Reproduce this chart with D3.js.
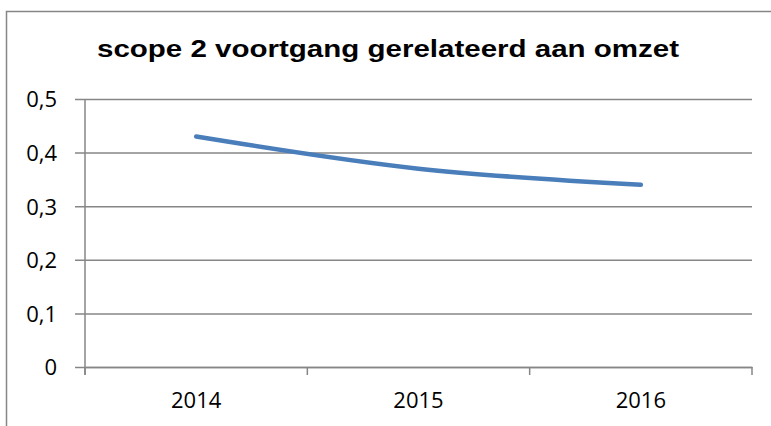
<!DOCTYPE html>
<html>
<head>
<meta charset="utf-8">
<script src="https://cdn.jsdelivr.net/npm/d3@7"></script>
<style>
  body { margin: 0; background: #fff; }
  svg { display: block; }
</style>
</head>
<body>
<svg id="chart"></svg>
<script>
const years = ["2014", "2015", "2016"];
const values = [0.43, 0.37, 0.34];
const yTicks = [0, 0.1, 0.2, 0.3, 0.4, 0.5];
const title = "scope 2 voortgang gerelateerd aan omzet";

const W = 771, H = 426;
const margin = { top: 99, right: 19, bottom: 59, left: 85 };
const width = W - margin.left - margin.right,
  height = H - margin.top - margin.bottom;

const svg = d3.select("#chart").attr("width", W).attr("height", H);

// chart frame (cut off at right and bottom)
svg.append("path")
  .attr("d", "M6.5," + H + " V11.5 H" + (W + 5))
  .attr("fill", "none")
  .attr("stroke", "#868686")
  .attr("stroke-width", 1.5);

svg.append("text")
  .attr("x", 97)
  .attr("y", 57)
  .attr("textLength", 582)
  .attr("lengthAdjust", "spacingAndGlyphs")
  .style("font-family", "'Liberation Sans', Arial, sans-serif")
  .style("font-weight", "bold")
  .style("font-size", "23px")
  .text(title);

const g = svg.append("g")
  .attr("transform", "translate(" + margin.left + "," + margin.top + ")");

const x = d3.scaleBand().domain(years).range([0, width]);
const y = d3.scaleLinear().domain([0, 0.5]).range([height, 0]);

const fmt = d => d === 0 ? "0" : d3.format(".1f")(d).replace(".", ",");
const labelFont = "'Open Sans', 'Liberation Sans', sans-serif";

// gridlines + y axis
const yAxis = g.append("g")
  .call(d3.axisLeft(y).tickValues(yTicks).tickFormat(fmt).tickSize(0));
yAxis.select(".domain").remove();
yAxis.selectAll(".tick line")
  .attr("stroke", "#868686").attr("stroke-width", 1.5)
  .attr("x1", -10).attr("x2", width);
yAxis.selectAll(".tick text")
  .attr("x", -28)
  .attr("dy", "0.36em")
  .style("font-family", labelFont)
  .style("font-size", "22px")
  .attr("fill", "#000");

// vertical axis line
g.append("line")
  .attr("x1", 0).attr("x2", 0)
  .attr("y1", 0).attr("y2", height + 8)
  .attr("stroke", "#868686").attr("stroke-width", 1.5);

// x axis
const xAxis = g.append("g")
  .attr("transform", "translate(0," + height + ")")
  .call(d3.axisBottom(x).tickSize(0));
xAxis.select(".domain").attr("stroke", "#868686").attr("stroke-width", 1.5);
xAxis.selectAll(".tick text")
  .attr("y", 41)
  .attr("dy", 0)
  .style("font-family", labelFont)
  .style("font-size", "22px")
  .attr("fill", "#000");

const bounds = [0].concat(years.map(d => x(d) + x.bandwidth()));
g.append("g").selectAll("line")
  .data(bounds)
  .join("line")
  .attr("x1", d => d).attr("x2", d => d)
  .attr("y1", height).attr("y2", height + 8)
  .attr("stroke", "#868686").attr("stroke-width", 1.5);

const line = d3.line()
  .x((d, i) => x(years[i]) + x.bandwidth() / 2)
  .y(d => y(d))
  .curve(d3.curveCatmullRom.alpha(0.5));

g.append("path")
  .datum(values)
  .attr("d", line)
  .attr("fill", "none")
  .attr("stroke", "#4a7ebb")
  .attr("stroke-width", 4.5)
  .attr("stroke-linecap", "round");
</script>
</body>
</html>
